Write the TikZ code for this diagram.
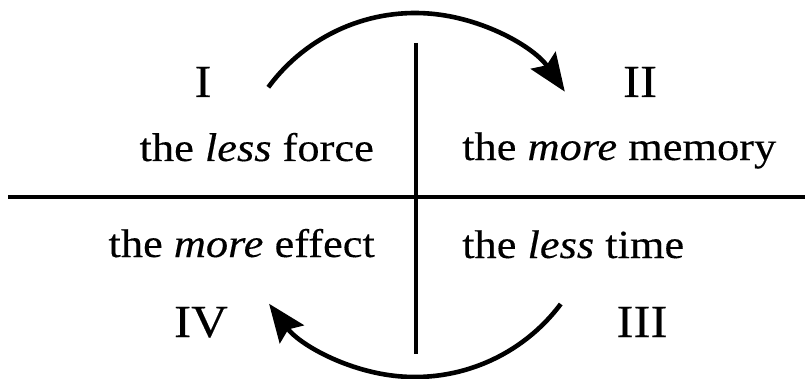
\documentclass[tikz,border=0pt]{standalone}
\usepackage{fontspec}
\setmainfont{Liberation Serif}[FakeStretch=1.11,FakeBold=0.3]
\usetikzlibrary{arrows.meta}
\tikzset{
  txt/.style={inner sep=0pt, font=\fontsize{40}{48}\selectfont},
  num/.style={inner sep=0pt, font=\fontsize{46}{54}\selectfont},
  axis/.style={line width=3.2pt},
  cyc/.style={line width=4.6pt, -{Stealth[length=38pt,width=30pt,inset=6pt]}}
}
\begin{document}
\begin{tikzpicture}[x=1pt,y=1pt]
\useasboundingbox (0,0) rectangle (805,378);
% axes
\coordinate (hl) at (8,181);
\coordinate (hr) at (805,181);
\coordinate (vt) at (416,335);
\coordinate (vb) at (416,24);
\draw[axis] (hl) -- (hr);
\draw[axis] (vt) -- (vb);
% texts
\node[txt, anchor=base east] (q1) at (374,217) {the \textit{less} force};
\node[txt, anchor=base west] (q2) at (462,218) {the \textit{more} memory};
\node[txt, anchor=base east] (q4) at (375,121) {the \textit{more} effect};
\node[txt, anchor=base west] (q3) at (462,120) {the \textit{less} time};
\node[num, anchor=base] (n1) at (203,281) {I};
\node[num, anchor=base] (n2) at (640,281) {II};
\node[num, anchor=base] (n4) at (201,41) {IV};
\node[num, anchor=base] (n3) at (642,41) {III};
% cycle arrows
\coordinate (c) at (415,183);
\draw[cyc] ([shift={(143.7:182)}]c) arc[start angle=143.7, end angle=34.6, radius=182];
\draw[cyc] ([shift={(-36.8:182)}]c) arc[start angle=-36.8, end angle=-143.3, radius=182];
\end{tikzpicture}
\end{document}
